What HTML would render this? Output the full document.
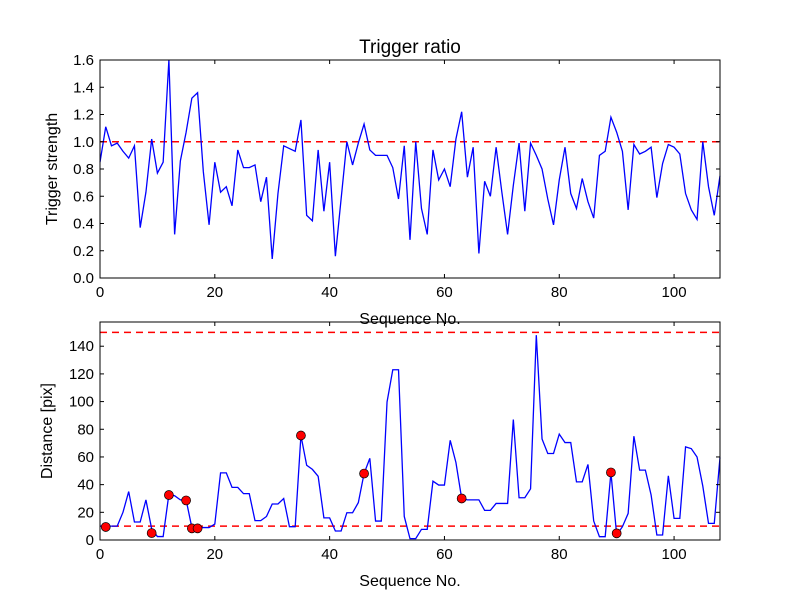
<!DOCTYPE html>
<html><head><meta charset="utf-8"><style>
html,body{margin:0;padding:0;background:#fff}
svg{display:block;font-family:"Liberation Sans","DejaVu Sans",sans-serif}
</style></head><body>
<svg id="chart" width="800" height="600" viewBox="0 0 800 600" xmlns="http://www.w3.org/2000/svg">
<rect width="800" height="600" fill="#fff"/>
</svg>
<script>
const seqTop = [0.85,1.11,0.97,0.99,0.93,0.88,0.97,0.37,0.63,1.02,0.77,0.85,1.60,0.32,0.86,1.07,1.32,1.36,0.78,0.39,0.85,0.63,0.67,0.53,0.94,0.81,0.81,0.83,0.56,0.74,0.14,0.62,0.97,0.95,0.93,1.16,0.46,0.42,0.94,0.49,0.85,0.16,0.58,1.0,0.83,0.99,1.13,0.94,0.90,0.90,0.90,0.81,0.58,0.97,0.28,1.0,0.51,0.32,0.94,0.72,0.80,0.67,1.02,1.22,0.74,0.96,0.18,0.71,0.60,0.96,0.63,0.32,0.68,0.99,0.49,0.99,0.90,0.80,0.58,0.39,0.72,0.96,0.62,0.51,0.73,0.56,0.44,0.90,0.93,1.18,1.07,0.93,0.50,0.98,0.91,0.93,0.96,0.59,0.84,0.98,0.96,0.91,0.62,0.50,0.43,1.0,0.67,0.46,0.75];
const seqBottom = [10,10,10,10,20,35,13,13,29,8,2.5,2.5,33,32,29,29,9,9,9,9,11.5,48.5,48.5,38,38,33.5,33.5,14,14,17,26,26,30,9.6,9.6,75.5,54,51,46,16,16,6.5,6.5,19.7,19.7,27,48,59,13.7,13.7,99.7,123,123,17,1,1,7.7,7.7,42.5,39.7,39.7,72,56,30,29,29,29,21.4,21.4,26.4,26.4,26.4,87,30.5,30.5,37,148,73,62.5,62.5,76.5,70.4,70.4,42,42,54.6,13.7,2.4,2.4,48.8,3.6,9.6,19.2,75,50.5,50.5,32.5,3.6,3.6,46.4,15.6,15.6,67.3,66,60,39,12,12,59.6];
const markerIdx = [1,9,12,15,16,17,35,46,63,89,90];
const markerVal = [9.4,5,32.5,28.6,8.4,8.4,75.5,48,30,48.8,4.8];
const xTicks = [0,20,40,60,80,100];
const yTicksTop = [0.0,0.2,0.4,0.6,0.8,1.0,1.2,1.4,1.6];
const yTicksBottom = [0,20,40,60,80,100,120,140];
const thrTop = [1.0];
const thrBottom = [10,150];

const svg = document.getElementById('chart');
const NS = 'http://www.w3.org/2000/svg';
function mk(tag, attrs, parent){const e=document.createElementNS(NS,tag);for(const k in attrs)e.setAttribute(k,attrs[k]);(parent||svg).appendChild(e);return e;}

function axes(name, top, bottom, ymax, yTicks, fmt, series, thr, ylabel){
  const L=100,R=720,X0=0,X1=108;
  const sx=v=>L+(v-X0)/(X1-X0)*(R-L);
  const sy=v=>bottom-v/ymax*(bottom-top);
  const g=mk('g',{});
  
  
  thr.forEach(t=>{
    const l=mk('line',{x1:L,x2:R,y1:sy(t),y2:sy(t),stroke:'#ff0000','stroke-width':1.5,'stroke-dasharray':'7,5'},g);
    
    
  });
  const d=series.map((v,i)=>(i?'L':'M')+sx(i).toFixed(2)+','+sy(v).toFixed(2)).join(' ');
  const p=mk('path',{d:d,fill:'none',stroke:'#0000ff','stroke-width':1.3},g);
  
  
  const f=mk('rect',{x:L,y:top,width:R-L,height:bottom-top,fill:'none',stroke:'#000','stroke-width':1},g);
  
  
  xTicks.forEach(t=>{
    const x=sx(t);
    mk('line',{x1:x,x2:x,y1:bottom,y2:bottom-4,stroke:'#000'},g);
    mk('line',{x1:x,x2:x,y1:top,y2:top+4,stroke:'#000'},g);
    const tx=mk('text',{x:x,y:bottom+19,'text-anchor':'middle','font-size':'15'},g);
    tx.textContent=t;
    
    
  });
  yTicks.forEach(t=>{
    const y=sy(t);
    mk('line',{x1:L,x2:L+4,y1:y,y2:y,stroke:'#000'},g);
    mk('line',{x1:R,x2:R-4,y1:y,y2:y,stroke:'#000'},g);
    const tx=mk('text',{x:L-6,y:y+5,'text-anchor':'end','font-size':'15'},g);
    tx.textContent=fmt(t);
    
    
  });
  const xl=mk('text',{x:(L+R)/2,y:bottom+46,'text-anchor':'middle','font-size':'16'},g);
  xl.textContent='Sequence No.';
  
  
  const yx = ymax>10?52:57;
  const yl=mk('text',{x:yx,y:(top+bottom)/2,'text-anchor':'middle','font-size':'16',transform:`rotate(-90 ${yx} ${(top+bottom)/2})`},g);
  yl.textContent=ylabel;
  
  
  return {sx,sy,g};
}

const a1=axes('top-axes',60,278,1.6,yTicksTop,t=>t.toFixed(1),seqTop,thrTop,'Trigger strength');
const a2=axes('bottom-axes',322,540,157.5,yTicksBottom,t=>String(t),seqBottom,thrBottom,'Distance [pix]');
markerIdx.forEach((idx,k)=>{
  const c=mk('circle',{cx:a2.sx(idx),cy:a2.sy(markerVal[k]),r:4.5,fill:'#ff0000',stroke:'#000','stroke-width':0.7},a2.g);
  
  
});
const title=mk('text',{x:410,y:53,'text-anchor':'middle','font-size':'19'});
title.textContent='Trigger ratio';


</script>
</body></html>
